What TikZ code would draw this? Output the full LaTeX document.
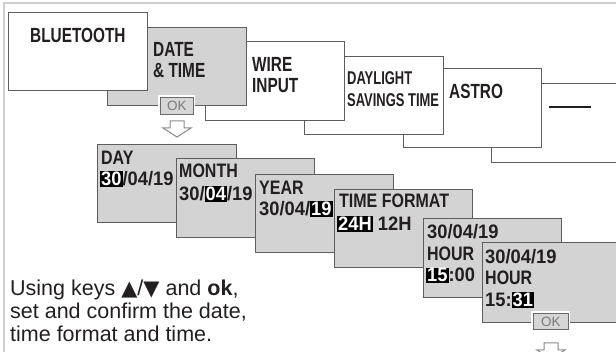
\documentclass[tikz,border=0pt]{standalone}
\usepackage{fontspec}
\setmainfont{Liberation Sans}
\newfontfamily\upf[FakeStretch=0.75]{Liberation Sans}
\newfontfamily\dstf[FakeStretch=0.70]{Liberation Sans}
\newfontfamily\lof[FakeStretch=0.82]{Liberation Sans}
\newfontfamily\digf[FakeStretch=0.94]{Liberation Sans}
\newfontfamily\symf{DejaVu Sans}
\definecolor{boxgray}{HTML}{D3D3D3}
\definecolor{boxline}{HTML}{5E5E5E}
\definecolor{ink}{HTML}{231F20}
\definecolor{framegray}{HTML}{CFCFCF}
\definecolor{okfill}{HTML}{D6D6D6}
\definecolor{okline}{HTML}{6A6A6A}
\definecolor{oktext}{HTML}{7A7A7A}
\definecolor{arrowline}{HTML}{8A8A8A}
\newcommand\hlt[1]{{\setlength{\fboxsep}{1pt}\colorbox{black}{\color{white}#1}}}
\newcommand\upsize{\fontsize{20.5}{21}\selectfont}
\newcommand\losize{\fontsize{19.5}{20}\selectfont}
\tikzset{
  menubox/.style={draw=boxline, line width=1.2pt, fill=white, inner sep=0, anchor=north west},
  selbox/.style={menubox, fill=boxgray},
  stepbox/.style={menubox, fill=boxgray},
  lbl/.style={anchor=base west, inner sep=0, text=ink},
  upl/.style={lbl, font=\upf\bfseries\upsize},
  lol/.style={lbl, font=\lof\bfseries\losize},
  dgl/.style={lbl, font=\digf\bfseries\losize},
  okbtn/.style={draw=okline, fill=okfill, line width=0.9pt, inner sep=0, anchor=north west,
     text=oktext, font=\fontsize{13.5}{13.5}\selectfont},
  okpad/.style={fill=white, inner sep=0, anchor=north west},
  hollow/.style={draw=arrowline, fill=white, line width=1pt, line join=miter}
}
\begin{document}
\begin{tikzpicture}[x=1pt, y=-1pt]
\useasboundingbox (0,0) rectangle (616,352);
\clip (0,0) rectangle (616,352);
% frame
\draw[framegray, line width=2pt] (3.5,352) -- (3.5,3.5) -- (616,3.5);
% upper menu boxes (drawn back to front)
\node[menubox, minimum width=139pt, minimum height=79pt] (m6) at (491,83) {};
\node[menubox, minimum width=138pt, minimum height=79pt] (m5) at (403,68) {};
\node[menubox, minimum width=139pt, minimum height=78pt] (m4) at (304,56) {};
\node[menubox, minimum width=139pt, minimum height=79pt] (m3) at (205,41) {};
\node[selbox, minimum width=139pt, minimum height=78pt] (m2) at (107,27) {};
\node[menubox, minimum width=139pt, minimum height=78pt] (m1) at (8,12) {};
% upper labels
\node[upl] (l1) at (30,43) {BLUETOOTH};
\node[upl] (l2a) at (153,57) {DATE};
\node[upl] (l2b) at (153,78) {\& TIME};
\node[upl] (l3a) at (252,72) {WIRE};
\node[upl] (l3b) at (252,93) {INPUT};
\node[lbl, font=\dstf\bfseries\fontsize{18.5}{18.5}\selectfont] (l4a) at (347,85) {DAYLIGHT};
\node[lbl, font=\dstf\bfseries\fontsize{18.5}{18.5}\selectfont] (l4b) at (347,107) {SAVINGS TIME};
\node[upl] (l5) at (449,99) {ASTRO};
\coordinate (d1) at (549,107);
\coordinate (d2) at (591,107);
\draw[ink, line width=2pt] (d1) -- (d2);
% OK button 1 and arrow
\node[okpad, minimum width=37pt, minimum height=21pt] (okp1) at (158,95) {};
\node[okbtn, minimum width=33pt, minimum height=17pt] (ok1) at (160,97) {OK};
\coordinate (a1) at (177,121);
\draw[hollow] ([xshift=-7pt]a1) -- ([xshift=7pt]a1) -- ([xshift=7pt,yshift=-7pt]a1)
  -- ([xshift=14pt,yshift=-7pt]a1) -- ([yshift=-16pt]a1) -- ([xshift=-14pt,yshift=-7pt]a1)
  -- ([xshift=-7pt,yshift=-7pt]a1) -- cycle;
% lower step boxes (later ones on top)
\node[stepbox, minimum width=139pt, minimum height=78pt] (s1) at (97,144) {};
\node[lol] (s1a) at (101,165) {DAY};
\node[dgl] (s1b) at (100,186) {\hlt{30}/04/19};
\node[stepbox, minimum width=138pt, minimum height=79pt] (s2) at (176,158) {};
\node[lol] (s2a) at (179,178) {MONTH};
\node[dgl] (s2b) at (179,201) {30/\hlt{04}/19};
\node[stepbox, minimum width=138pt, minimum height=78pt] (s3) at (255,174) {};
\node[lol] (s3a) at (259,195) {YEAR};
\node[dgl] (s3b) at (259,216) {30/04/\hlt{19}};
\node[stepbox, minimum width=138pt, minimum height=78pt] (s4) at (334,189) {};
\node[lol] (s4a) at (339,208) {TIME FORMAT};
\node[dgl] (s4b) at (337,231) {\hlt{24H} 12H};
\node[stepbox, minimum width=138pt, minimum height=79pt] (s5) at (423,218) {};
\node[dgl] (s5a) at (427,239) {30/04/19};
\node[lol] (s5b) at (427,261) {HOUR};
\node[dgl] (s5c) at (426,282) {\hlt{15}:00};
\node[stepbox, minimum width=139pt, minimum height=80pt] (s6) at (482,242) {};
\node[dgl] (s6a) at (485,264) {30/04/19};
\node[lol] (s6b) at (485,285) {HOUR};
\node[dgl] (s6c) at (485,307) {15:\hlt{31}};
% OK button 2 and arrow
\node[okpad, minimum width=39pt, minimum height=20pt] (okp2) at (531,311) {};
\node[okbtn, minimum width=35pt, minimum height=16pt] (ok2) at (533,313) {OK};
\coordinate (a2) at (551,343);
\draw[hollow] ([xshift=-7pt]a2) -- ([xshift=7pt]a2) -- ([xshift=7pt,yshift=-7pt]a2)
  -- ([xshift=14pt,yshift=-7pt]a2) -- ([yshift=-16pt]a2) -- ([xshift=-14pt,yshift=-7pt]a2)
  -- ([xshift=-7pt,yshift=-7pt]a2) -- cycle;
% instruction text
\tikzset{note/.style={anchor=base west, inner sep=0, text=ink, font=\fontsize{21.5}{23}\selectfont}}
\node[note] (t1) at (10,296) {Using keys {\symf\fontsize{21}{21}\selectfont ▲}/{\symf\fontsize{21}{21}\selectfont ▼} and \textbf{ok},};
\node[note] (t2) at (10,319) {set and confirm the date,};
\node[note] (t3) at (10,342) {time format and time.};
\end{tikzpicture}
\end{document}
